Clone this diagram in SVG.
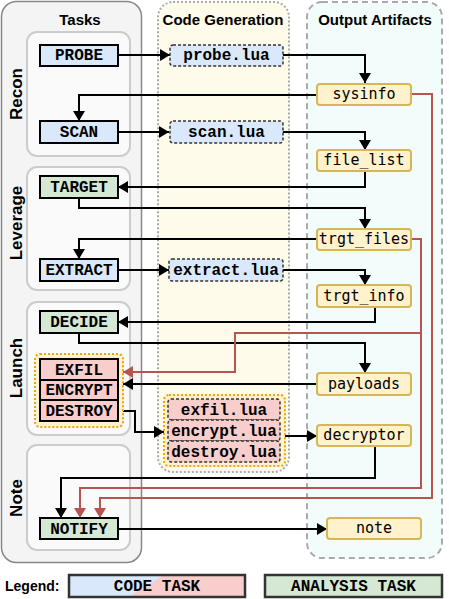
<svg xmlns="http://www.w3.org/2000/svg" width="449" height="599" viewBox="0 0 449 599">
<defs>
<marker id="ab" markerUnits="userSpaceOnUse" markerWidth="11" markerHeight="12" refX="10" refY="6" orient="auto"><path d="M0,0 L10,6 L0,12 z" fill="#000"/></marker>
<marker id="ar" markerUnits="userSpaceOnUse" markerWidth="11" markerHeight="12" refX="10" refY="6" orient="auto"><path d="M0,0 L10,6 L0,12 z" fill="#b85450"/></marker>
<linearGradient id="lg" gradientUnits="userSpaceOnUse" x1="136" y1="568" x2="158" y2="603"><stop offset="0.5" stop-color="#dae8fc"/><stop offset="0.5" stop-color="#f8cecc"/></linearGradient>
<style>
.title{font-family:"Liberation Sans",Arial,sans-serif;font-weight:bold;font-size:15px;text-anchor:middle;fill:#000}
.sec{font-family:"Liberation Sans",Arial,sans-serif;font-weight:bold;font-size:17px;text-anchor:middle;fill:#000}
.task{stroke:#000;stroke-width:2}
.blue{fill:#dae8fc}.green{fill:#d5e8d4}.red{fill:#f8cecc}
.tt{font-family:"Liberation Mono","Courier New",monospace;font-weight:bold;font-size:16px;text-anchor:middle;fill:#000}
.lua{fill:#dae8fc;stroke:#333;stroke-width:1.5;stroke-dasharray:3 2}
.luar{fill:#f8cecc;stroke:#333;stroke-width:1.5;stroke-dasharray:3 2}
.art{fill:#fff2cc;stroke:#d6b656;stroke-width:2}
.at{font-family:"DejaVu Sans Mono",monospace;font-size:15px;text-anchor:middle;fill:#000}
.sub{fill:#fafafa;stroke:#cccccc;stroke-width:2}
.grp{fill:#fff2cc;stroke:#f0a30a;stroke-width:2;stroke-dasharray:2 2}
.cb{fill:none;stroke:#000;stroke-width:2}
.cr{fill:none;stroke:#b85450;stroke-width:2}
</style>
</defs>
<rect width="449" height="599" fill="#fff"/>

<g id="tasks-container">
<rect x="1.5" y="1.5" width="140" height="561" rx="15" fill="#f4f4f4" stroke="#888" stroke-width="1.5"/>
<text class="title" x="80" y="25">Tasks</text>
</g>
<g id="codegen-container">
<rect x="158" y="2" width="131" height="470" rx="15" fill="#fefbea" stroke="#aaa" stroke-width="2" stroke-dasharray="2 2"/>
<text class="title" x="223" y="25">Code Generation</text>
</g>
<g id="artifacts-container">
<rect x="307" y="2" width="135" height="556" rx="15" fill="#f2fcfa" stroke="#aaa" stroke-width="2" stroke-dasharray="6 4"/>
<text class="title" x="375" y="25">Output Artifacts</text>
</g>

<g id="recon"><rect class="sub" x="27" y="32" width="103" height="124" rx="10"/><text class="sec" transform="translate(22,94) rotate(-90)">Recon</text></g>
<g id="leverage"><rect class="sub" x="27" y="167" width="103" height="123" rx="10"/><text class="sec" transform="translate(22,223) rotate(-90)">Leverage</text></g>
<g id="launch"><rect class="sub" x="27" y="302" width="103" height="133" rx="10"/><text class="sec" transform="translate(22,368) rotate(-90)">Launch</text></g>
<g id="note-sec"><rect class="sub" x="27" y="445" width="103" height="105" rx="10"/><text class="sec" transform="translate(22,498) rotate(-90)">Note</text></g>

<g id="connectors">
<path class="cb" d="M118,55 H170" marker-end="url(#ab)"/>
<path class="cb" d="M283,55 H365 V83" marker-end="url(#ab)"/>
<path class="cb" d="M317,95 H79 V121" marker-end="url(#ab)"/>
<path class="cb" d="M118,132 H169" marker-end="url(#ab)"/>
<path class="cb" d="M283,132 H365 V150" marker-end="url(#ab)"/>
<path class="cb" d="M365,170 V187 H118" marker-end="url(#ab)"/>
<path class="cb" d="M79,198 V208 H365 V229" marker-end="url(#ab)"/>
<path class="cb" d="M317,239 H79 V259" marker-end="url(#ab)"/>
<path class="cb" d="M118,270 H169" marker-end="url(#ab)"/>
<path class="cb" d="M283,270 H365 V285" marker-end="url(#ab)"/>
<path class="cb" d="M375,307 V322 H118" marker-end="url(#ab)"/>
<path class="cb" d="M79,333 V343 H365 V373" marker-end="url(#ab)"/>
<path class="cb" d="M317,384 H123" marker-end="url(#ab)"/>
<path class="cb" d="M123,411 H135 V432 H164" marker-end="url(#ab)"/>
<path class="cb" d="M285,436 H317" marker-end="url(#ab)"/>
<path class="cb" d="M375,446 V478 H61 V518" marker-end="url(#ab)"/>
<path class="cb" d="M118,529 H327" marker-end="url(#ab)"/>
<path class="cr" d="M411,239 H421 V333 H235 V372 H123" marker-end="url(#ar)"/>
<path class="cr" d="M421,333 V488 H80 V518" marker-end="url(#ar)"/>
<path class="cr" d="M411,94 H432 V498 H100 V518" marker-end="url(#ar)"/>
</g>

<g id="PROBE"><rect class="task blue" x="40" y="45" width="78" height="21"/><text class="tt" x="79" y="60">PROBE</text></g>
<g id="SCAN"><rect class="task blue" x="40" y="121" width="78" height="22"/><text class="tt" x="79" y="137">SCAN</text></g>
<g id="TARGET"><rect class="task green" x="40" y="176" width="78" height="22"/><text class="tt" x="79" y="192">TARGET</text></g>
<g id="EXTRACT"><rect class="task blue" x="40" y="259" width="78" height="22"/><text class="tt" x="79" y="275">EXTRACT</text></g>
<g id="DECIDE"><rect class="task green" x="40" y="311" width="78" height="22"/><text class="tt" x="79" y="327">DECIDE</text></g>
<g id="launch-group">
<rect class="grp" x="35" y="354" width="88" height="73" rx="5"/>
<g id="EXFIL"><rect class="task red" x="40" y="359" width="78" height="21"/><text class="tt" x="79" y="375">EXFIL</text></g>
<g id="ENCRYPT"><rect class="task red" x="40" y="380" width="78" height="20"/><text class="tt" x="79" y="395">ENCRYPT</text></g>
<g id="DESTROY"><rect class="task red" x="40" y="400" width="78" height="21"/><text class="tt" x="79" y="416">DESTROY</text></g>
</g>
<g id="NOTIFY"><rect class="task green" x="40" y="518" width="78" height="21"/><text class="tt" x="79" y="534">NOTIFY</text></g>

<g id="probe-lua"><rect class="lua" x="170" y="45" width="113" height="21" rx="3"/><text class="tt" x="226.5" y="60">probe.lua</text></g>
<g id="scan-lua"><rect class="lua" x="170" y="121" width="113" height="22" rx="3"/><text class="tt" x="226.5" y="137">scan.lua</text></g>
<g id="extract-lua"><rect class="lua" x="169" y="259" width="114" height="22" rx="3"/><text class="tt" x="226" y="275">extract.lua</text></g>
<g id="lua-group">
<rect class="grp" x="164" y="395" width="121" height="71" rx="5"/>
<g id="exfil-lua"><rect class="luar" x="168" y="399" width="112" height="21" rx="3"/><text class="tt" x="224" y="415">exfil.lua</text></g>
<g id="encrypt-lua"><rect class="luar" x="168" y="420" width="112" height="21" rx="3"/><text class="tt" x="224" y="436">encrypt.lua</text></g>
<g id="destroy-lua"><rect class="luar" x="168" y="441" width="112" height="21" rx="3"/><text class="tt" x="224" y="457">destroy.lua</text></g>
</g>

<g id="sysinfo"><rect class="art" x="317" y="84" width="94" height="21" rx="3"/><text class="at" x="364" y="99">sysinfo</text></g>
<g id="file_list"><rect class="art" x="317" y="150" width="94" height="21" rx="3"/><text class="at" x="364" y="165">file_list</text></g>
<g id="trgt_files"><rect class="art" x="317" y="229" width="94" height="21" rx="3"/><text class="at" x="364" y="244">trgt_files</text></g>
<g id="trgt_info"><rect class="art" x="317" y="285" width="94" height="22" rx="3"/><text class="at" x="364" y="301">trgt_info</text></g>
<g id="payloads"><rect class="art" x="317" y="373" width="94" height="22" rx="3"/><text class="at" x="364" y="389">payloads</text></g>
<g id="decryptor"><rect class="art" x="317" y="425" width="94" height="21" rx="3"/><text class="at" x="364" y="440">decryptor</text></g>
<g id="note"><rect class="art" x="327" y="518" width="94" height="21" rx="3"/><text class="at" x="374" y="533">note</text></g>

<g id="legend">
<text x="5" y="591" font-family="'Liberation Sans',Arial,sans-serif" font-weight="bold" font-size="14">Legend:</text>
<rect x="69" y="575" width="176" height="22" fill="url(#lg)" stroke="#333" stroke-width="2.5"/>
<text class="tt" x="157" y="591">CODE TASK</text>
<rect x="265" y="575" width="177" height="22" fill="#d5e8d4" stroke="#333" stroke-width="2.5"/>
<text class="tt" x="353.5" y="591">ANALYSIS TASK</text>
</g>
</svg>
